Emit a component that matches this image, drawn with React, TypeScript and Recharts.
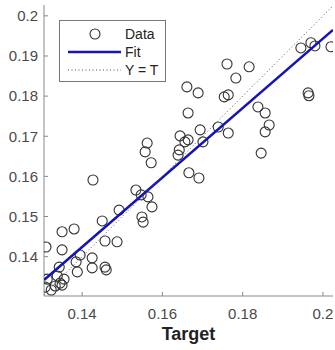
import React from 'react';
import { ScatterChart, Scatter, XAxis, YAxis, Legend } from 'recharts';

// values
const targets = [
  0.1945, 0.197, 0.198, 0.202, 0.1816, 0.1963, 0.1965, 0.1838, 0.1856, 0.1866, 0.1856, 0.1846,
  0.1761, 0.1783, 0.1661, 0.1689, 0.1754, 0.1764, 0.1664, 0.1694, 0.1739, 0.1764, 0.1644, 0.1656,
  0.1664, 0.1701, 0.1642, 0.1639, 0.1562, 0.1557, 0.1572, 0.1666, 0.1691, 0.1427, 0.1534, 0.1547,
  0.1564, 0.1574, 0.1492, 0.1549, 0.1552, 0.145, 0.135, 0.138, 0.131, 0.135, 0.1457, 0.1487,
  0.1395, 0.1385, 0.1425, 0.1388, 0.1425, 0.1457, 0.1343, 0.1338, 0.1313, 0.1355, 0.1345, 0.1308,
  0.1323, 0.1333, 0.135, 0.146,
];
const outputs = [
  0.192, 0.1933, 0.1925, 0.1923, 0.1873, 0.1808, 0.1801, 0.1773, 0.1758, 0.1728, 0.1711, 0.1658,
  0.188, 0.1845, 0.1823, 0.1808, 0.1798, 0.1803, 0.1758, 0.1716, 0.1723, 0.1708, 0.1701, 0.1686,
  0.1691, 0.1686, 0.1666, 0.1653, 0.1683, 0.1661, 0.1634, 0.1609, 0.1596, 0.1591, 0.1566, 0.1554,
  0.1549, 0.1524, 0.1516, 0.1499, 0.1486, 0.1489, 0.1462, 0.1469, 0.1424, 0.1417, 0.1439, 0.1437,
  0.1404, 0.1387, 0.1397, 0.1362, 0.1372, 0.1374, 0.1374, 0.1352, 0.1344, 0.1344, 0.1334, 0.1324,
  0.1317, 0.1327, 0.1329, 0.1367,
];
const fitX = [0.1305, 0.2025];
const fitY = [0.1342, 0.1965];
const identity = [0.1305, 0.2025];
const xTicks = [0.14, 0.16, 0.18, 0.2];
const yTicks = [0.14, 0.15, 0.16, 0.17, 0.18, 0.19, 0.2];
const xDomain = [0.1305, 0.2025];
const yDomain = [0.1302, 0.2027];

const points = targets.map((t, i) => ({ x: t, y: outputs[i] }));
const fitLine = fitX.map((t, i) => ({ x: t, y: fitY[i] }));
const idLine = identity.map((v) => ({ x: v, y: v }));

const font = '"Liberation Sans", Arial, sans-serif';
const boxColor = '#888';

const Ring = (props: any) => (
  <circle cx={props.cx} cy={props.cy} r={5} fill="none" stroke="#333" strokeWidth={1.1} />
);

const NoShape = () => <g />;

const LegendBox = () => (
  <svg width={107} height={62} style={{ display: 'block' }}>
    <rect x={0.5} y={0.5} width={106} height={61} fill="#fff" stroke="#777" />
    <circle cx={36} cy={14} r={5} fill="none" stroke="#333" strokeWidth={1.1} />
    <line x1={9} y1={32} x2={62} y2={32} stroke="#1414b8" strokeWidth={2.5} />
    <line x1={9} y1={50} x2={62} y2={50} stroke="#555" strokeDasharray="1 2.5" />
    <g fontFamily={font} fontSize={14} fill="#222">
      <text x={66} y={19}>Data</text>
      <text x={66} y={37}>Fit</text>
      <text x={66} y={55}>Y = T</text>
    </g>
  </svg>
);

export default function App() {
  const tickStyle = { fill: '#4a4a4a', fontSize: 15, fontFamily: font };
  return (
    <div style={{ position: 'absolute', left: 0, top: 0, background: '#fff' }}>
      <ScatterChart width={335} height={350} margin={{ top: 5, right: 2, bottom: 0, left: 0 }}>
        <XAxis
          xAxisId="b"
          type="number"
          dataKey="x"
          domain={xDomain}
          ticks={xTicks}
          allowDataOverflow
          height={54}
          tickSize={-4}
          tickMargin={16}
          axisLine={{ stroke: boxColor }}
          tickLine={{ stroke: boxColor }}
          tick={tickStyle}
          tickFormatter={(v) => String(v)}
          label={{
            value: 'Target',
            position: 'insideBottom',
            offset: 10,
            style: { fill: '#222', fontSize: 18, fontWeight: 'bold', fontFamily: font },
          }}
        />
        <XAxis
          xAxisId="t"
          orientation="top"
          type="number"
          dataKey="x"
          domain={xDomain}
          ticks={xTicks}
          allowDataOverflow
          height={0}
          tickSize={-4}
          axisLine={{ stroke: boxColor }}
          tickLine={{ stroke: boxColor }}
          tickFormatter={() => ''}
        />
        <YAxis
          yAxisId="l"
          type="number"
          dataKey="y"
          domain={yDomain}
          ticks={yTicks}
          allowDataOverflow
          width={44}
          tickSize={-4}
          tickMargin={10}
          axisLine={{ stroke: boxColor }}
          tickLine={{ stroke: boxColor }}
          tick={tickStyle}
          tickFormatter={(v) => String(v)}
        />
        <YAxis
          yAxisId="r"
          orientation="right"
          type="number"
          dataKey="y"
          domain={yDomain}
          ticks={yTicks}
          allowDataOverflow
          width={0}
          tickSize={-4}
          axisLine={{ stroke: boxColor }}
          tickLine={{ stroke: boxColor }}
          tickFormatter={() => ''}
        />
        <Legend
          layout="horizontal"
          verticalAlign="middle"
          align="center"
          content={<LegendBox />}
          wrapperStyle={{ left: 59, top: 20, width: 107, height: 62 }}
        />
        <Scatter
          name="Data"
          data={points}
          xAxisId="b"
          yAxisId="l"
          shape={Ring}
          isAnimationActive={false}
        />
        <Scatter
          name="Fit"
          data={fitLine}
          xAxisId="b"
          yAxisId="l"
          line={{ stroke: '#1414b8', strokeWidth: 2.5 }}
          shape={NoShape}
          isAnimationActive={false}
        />
        <Scatter
          name="Y = T"
          data={idLine}
          xAxisId="t"
          yAxisId="r"
          line={{ stroke: '#555', strokeWidth: 1, strokeDasharray: '1 2.5' }}
          shape={NoShape}
          isAnimationActive={false}
        />
      </ScatterChart>
    </div>
  );
}
